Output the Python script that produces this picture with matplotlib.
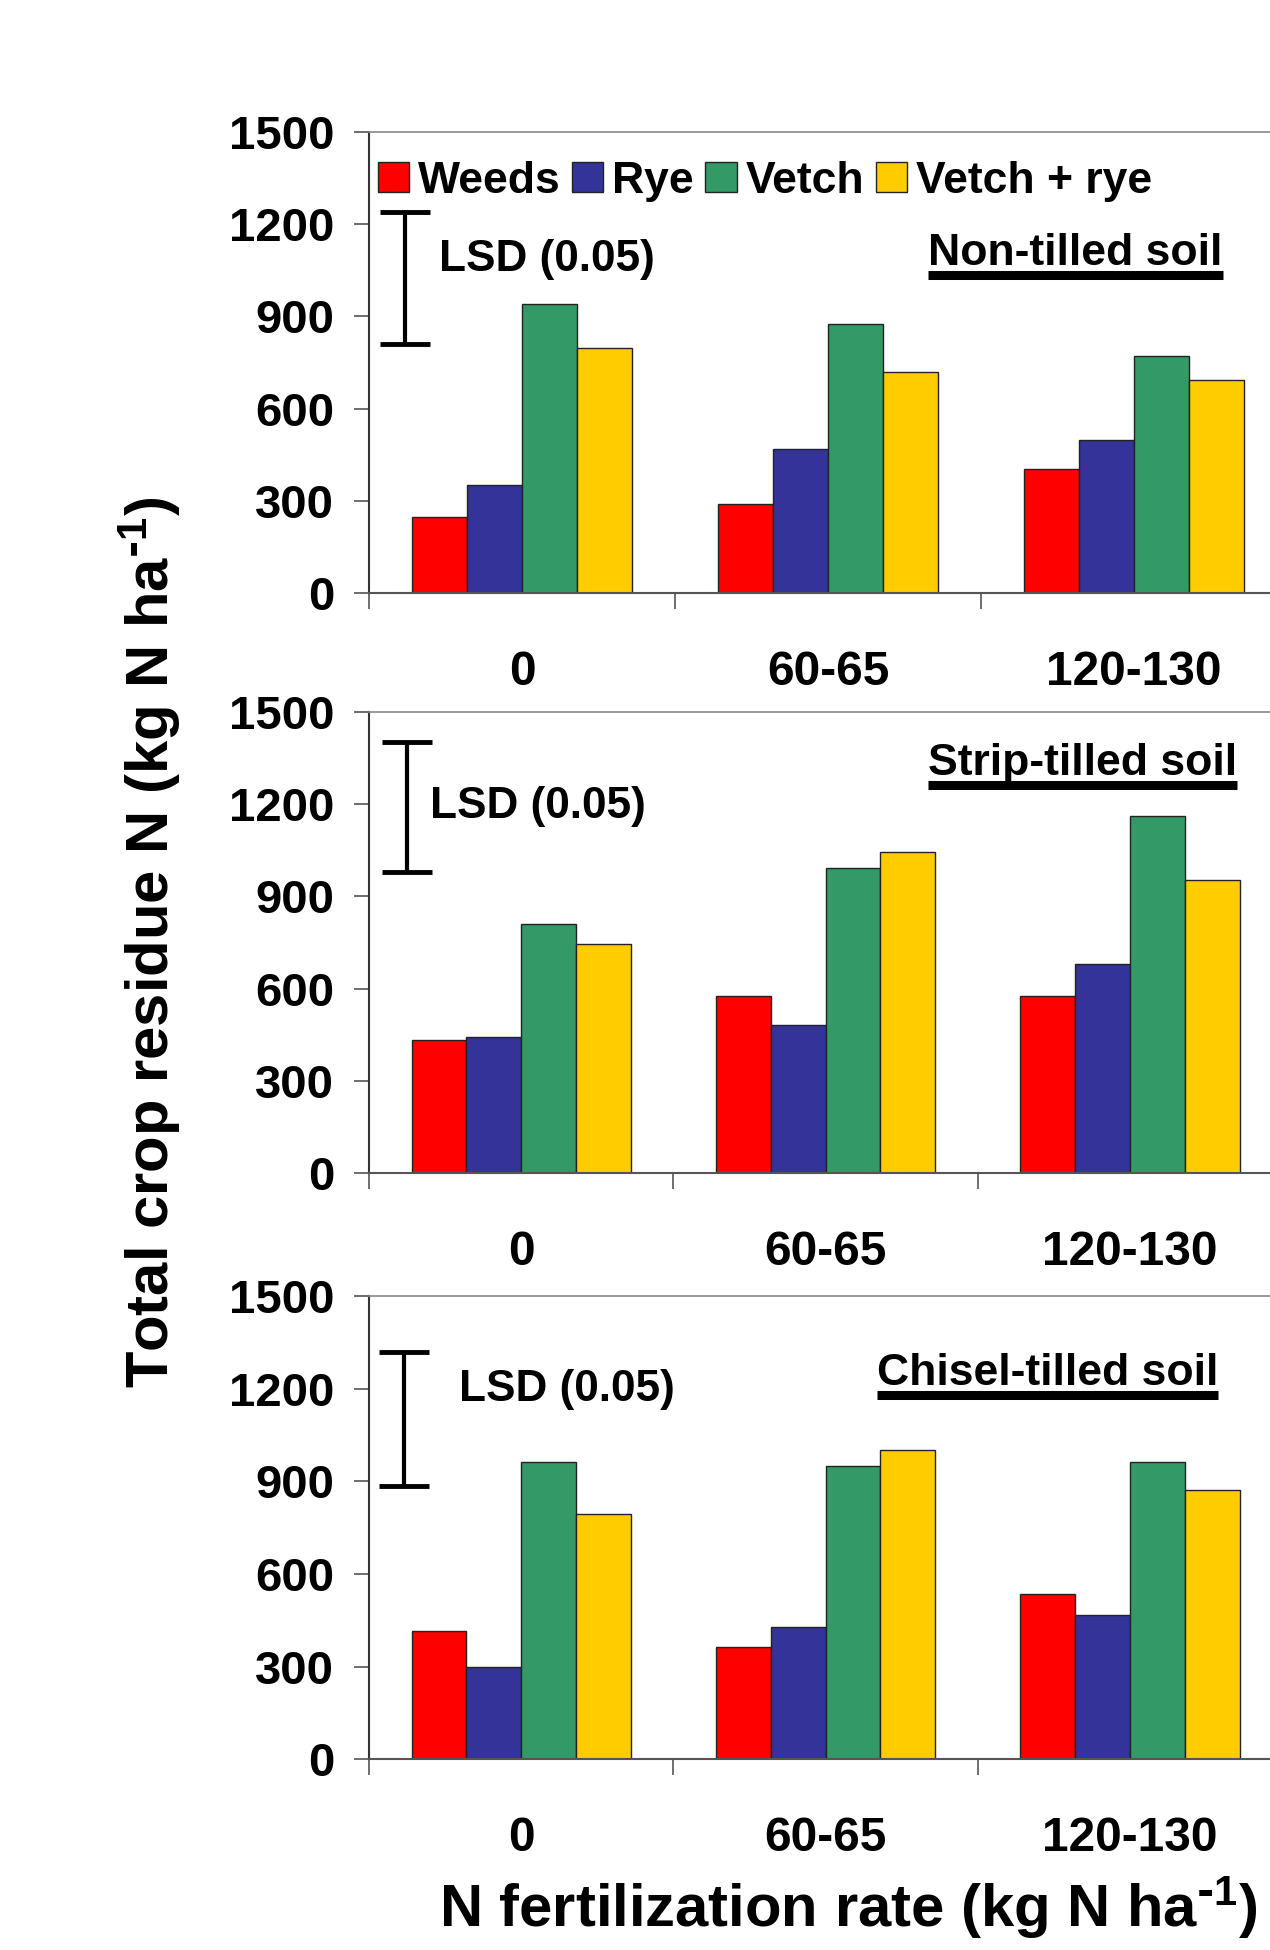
import numpy as np
import matplotlib
matplotlib.use("Agg")
import matplotlib.pyplot as plt

plt.rcParams['font.family'] = ['Liberation Sans', 'DejaVu Sans']
plt.rcParams['font.weight'] = 'bold'
plt.rcParams['mathtext.default'] = 'regular'

# data
rates = ['0', '60-65', '120-130']
crops = ['Weeds', 'Rye', 'Vetch', 'Vetch + rye']
colors = ['#ff0000', '#333399', '#339966', '#ffcc00']

soils = ['Non-tilled soil', 'Strip-tilled soil', 'Chisel-tilled soil']

# values per crop, one list per soil (order of rates)
nontilled = {
    'Weeds': [248, 288, 405],
    'Rye': [352, 470, 497],
    'Vetch': [940, 874, 770],
    'Vetch + rye': [797, 718, 692],
}
striptilled = {
    'Weeds': [431, 575, 575],
    'Rye': [443, 482, 679],
    'Vetch': [809, 992, 1161],
    'Vetch + rye': [744, 1043, 952],
}
chiseltilled = {
    'Weeds': [416, 365, 534],
    'Rye': [300, 430, 469],
    'Vetch': [964, 951, 964],
    'Vetch + rye': [795, 1002, 872],
}
panels = [nontilled, striptilled, chiseltilled]

# LSD (0.05) bar ends
lsd_low = [809, 980, 885]
lsd_high = [1240, 1401, 1319]

yticks = [0, 300, 600, 900, 1200, 1500]

# layout (figure fractions / axes fractions)
axes_rects = [
    [0.2906, 0.6959, 0.7228, 0.2364],
    [0.2906, 0.3985, 0.7190, 0.2364],
    [0.2906, 0.0977, 0.7190, 0.2377],
]
lsd_x = [0.117, 0.123, 0.114]
lsd_text_pos = [(0.076, 0.7245), (0.067, 0.794), (0.098, 0.799)]
soil_text_pos = [(0.930, 0.7115), (0.951, 0.864), (0.930, 0.808)]

line_col = '#555555'
bar_w = 0.18
sup = '$^{\\text{-}1}$'

fig = plt.figure(figsize=(12.7, 19.5), dpi=100)
axes = []
for k, data in enumerate(panels):
    ax = fig.add_axes(axes_rects[k])
    axes.append(ax)
    x = np.arange(len(rates)) + 0.5
    for i, crop in enumerate(crops):
        ax.bar(x + (i - 1.5) * bar_w, data[crop], width=bar_w,
               color=colors[i], edgecolor='#222222', linewidth=1,
               label=crop, zorder=2)

    ax.set_xlim(0, 3)
    ax.set_ylim(0, 1500)
    ax.set_yticks(yticks)
    ax.set_yticklabels([str(t) for t in yticks], fontsize=34, fontweight='bold')
    ax.set_xticks([0, 1, 2, 3])
    ax.set_xticklabels([])
    ax.set_xticks(x, minor=True)
    ax.set_xticklabels(rates, minor=True, fontsize=34.5, fontweight='bold')
    ax.tick_params(axis='y', direction='out', length=11, width=1.2,
                   color=line_col, pad=14)
    ax.tick_params(axis='x', which='major', direction='out', length=11.5,
                   width=1.2, color=line_col)
    ax.tick_params(axis='x', which='minor', length=0, pad=41)

    ax.spines['right'].set_visible(False)
    ax.spines['top'].set_color('#888888')
    ax.spines['top'].set_linewidth(1.2)
    ax.spines['bottom'].set_color(line_col)
    ax.spines['bottom'].set_linewidth(1.5)
    ax.spines['left'].set_color('#333333')
    ax.spines['left'].set_linewidth(1.5)

    mid = (lsd_low[k] + lsd_high[k]) / 2
    err = (lsd_high[k] - lsd_low[k]) / 2
    ax.errorbar([lsd_x[k]], [mid], yerr=[err], color='black', lw=3,
                capsize=18, capthick=3.5, fmt='none', zorder=3)
    ax.text(lsd_text_pos[k][0], lsd_text_pos[k][1], 'LSD (0.05)',
            transform=ax.transAxes, fontsize=31.8, fontweight='bold',
            ha='left', va='center')

    st = ax.text(soil_text_pos[k][0], soil_text_pos[k][1], soils[k],
                 transform=ax.transAxes, fontsize=32, fontweight='bold',
                 ha='right', va='baseline')
    fig.canvas.draw()
    bb = st.get_window_extent().transformed(ax.transAxes.inverted())
    uy = soil_text_pos[k][1] - 0.022
    ax.plot([bb.x0, bb.x1], [uy, uy], transform=ax.transAxes,
            color='black', lw=6.5, solid_capstyle='butt', clip_on=False)

leg = axes[0].legend(loc='upper left', bbox_to_anchor=(0.0, 0.957), ncol=4,
                     frameon=False, fontsize=32, handlelength=0.7,
                     handleheight=0.67, handletextpad=0.2, columnspacing=0.26,
                     borderpad=0.2, borderaxespad=0.0)
for t in leg.get_texts():
    t.set_fontweight('bold')

fig.text(0.118, 0.517, 'Total crop residue N (kg N ha' + sup + ')', rotation=90,
         fontsize=43, fontweight='bold', ha='center', va='center')
fig.text(0.668, 0.022, 'N fertilization rate (kg N ha' + sup + ')',
         fontsize=43, fontweight='bold', ha='center', va='center')

fig.savefig('out.png', dpi=100)
